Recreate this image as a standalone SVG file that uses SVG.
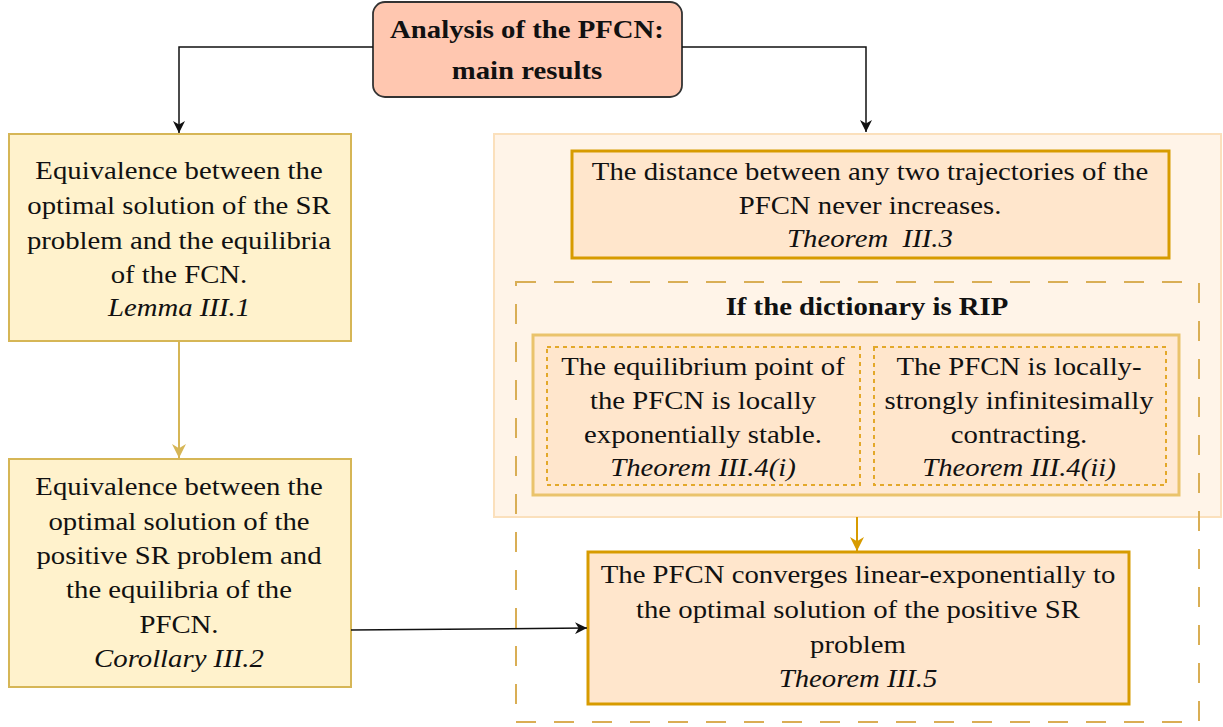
<svg xmlns="http://www.w3.org/2000/svg" width="1223" height="727" viewBox="0 0 1223 727">
<style>
text{font-family:"Liberation Serif","Times New Roman",serif;font-size:25px;fill:#111;text-anchor:middle;white-space:pre}
.b{font-weight:bold}
.i{font-style:italic}
.yel{fill:#FFF2CC;stroke:#D6B656;stroke-width:2}
.org{fill:#FFE6CC;stroke:#D79B00;stroke-width:3}
.dot{fill:#FFE6CC;stroke:#E3A82A;stroke-width:2;stroke-dasharray:4 4}
</style>
<defs>
<marker id="ab" markerUnits="userSpaceOnUse" markerWidth="12" markerHeight="12" viewBox="0 0 10 10" refX="10" refY="5" orient="auto"><path d="M0,0 L10,5 L0,10 L3,5 z" fill="#111"/></marker>
<marker id="ag" markerUnits="userSpaceOnUse" markerWidth="14" markerHeight="14" viewBox="0 0 10 10" refX="10" refY="5" orient="auto"><path d="M0,0 L10,5 L0,10 L3,5 z" fill="#D6B656"/></marker>
<marker id="ao" markerUnits="userSpaceOnUse" markerWidth="14" markerHeight="14" viewBox="0 0 10 10" refX="10" refY="5" orient="auto"><path d="M0,0 L10,5 L0,10 L3,5 z" fill="#D79B00"/></marker>
</defs>

<g id="container">
<rect x="494" y="134" width="727" height="383" fill="#FFF4E8" stroke="#FBE0BC" stroke-width="2"/>
</g>
<g id="rip-group">
<rect x="516" y="282" width="683" height="440" fill="none" stroke="#D9AE55" stroke-width="2" stroke-dasharray="20 18"/>
<text class="b" transform="translate(867 315) scale(1.15 1)">If the dictionary is RIP</text>
</g>

<g id="title">
<rect x="373" y="2" width="309" height="95" rx="12" fill="#FFC7B0" stroke="#333" stroke-width="1.8"/>
<text class="b" transform="translate(527 38) scale(1.15 1)">Analysis of the PFCN:</text>
<text class="b" transform="translate(527 79) scale(1.15 1)">main results</text>
</g>

<g id="lemma">
<rect class="yel" x="9" y="134" width="342" height="207"/>
<text transform="translate(179 179) scale(1.15 1)">Equivalence between the</text>
<text transform="translate(179 214) scale(1.15 1)">optimal solution of the SR</text>
<text transform="translate(179 249) scale(1.15 1)">problem and the equilibria</text>
<text transform="translate(179 283) scale(1.15 1)">of the FCN.</text>
<text class="i" transform="translate(179 316) scale(1.15 1)">Lemma III.1</text>
</g>

<g id="corollary">
<rect class="yel" x="9" y="459" width="342" height="228"/>
<text transform="translate(179 495) scale(1.15 1)">Equivalence between the</text>
<text transform="translate(179 530) scale(1.15 1)">optimal solution of the</text>
<text transform="translate(179 564) scale(1.15 1)">positive SR problem and</text>
<text transform="translate(179 598) scale(1.15 1)">the equilibria of the</text>
<text transform="translate(179 633) scale(1.15 1)">PFCN.</text>
<text class="i" transform="translate(179 667) scale(1.15 1)">Corollary III.2</text>
</g>

<g id="thm33">
<rect class="org" x="572" y="151" width="597" height="107"/>
<text transform="translate(870 180) scale(1.15 1)">The distance between any two trajectories of the</text>
<text transform="translate(870 214) scale(1.15 1)">PFCN never increases.</text>
<text class="i" transform="translate(870 247) scale(1.15 1)">Theorem  III.3</text>
</g>

<g id="rip-inner">
<rect x="533" y="335" width="646" height="160" fill="#FFE9D4" stroke="#EAC36C" stroke-width="3"/>
</g>

<g id="thm34i">
<rect class="dot" x="547" y="347" width="313" height="138"/>
<text transform="translate(703 375) scale(1.15 1)">The equilibrium point of</text>
<text transform="translate(703 409) scale(1.15 1)">the PFCN is locally</text>
<text transform="translate(703 443) scale(1.15 1)">exponentially stable.</text>
<text class="i" transform="translate(703 476) scale(1.15 1)">Theorem III.4(i)</text>
</g>

<g id="thm34ii">
<rect class="dot" x="874" y="347" width="292" height="138"/>
<text transform="translate(1019 375) scale(1.15 1)">The PFCN is locally-</text>
<text transform="translate(1019 409) scale(1.15 1)">strongly infinitesimally</text>
<text transform="translate(1019 443) scale(1.15 1)">contracting.</text>
<text class="i" transform="translate(1019 476) scale(1.15 1)">Theorem III.4(ii)</text>
</g>

<g id="thm35">
<rect class="org" x="588" y="552" width="541" height="152"/>
<text transform="translate(858 583) scale(1.15 1)">The PFCN converges linear-exponentially to</text>
<text transform="translate(858 618) scale(1.15 1)">the optimal solution of the positive SR</text>
<text transform="translate(858 653) scale(1.15 1)">problem</text>
<text class="i" transform="translate(858 687) scale(1.15 1)">Theorem III.5</text>
</g>

<g id="connectors" fill="none">
<path d="M373,47 H179 V133" stroke="#111" stroke-width="1.5" marker-end="url(#ab)"/>
<path d="M682,47 H866 V132" stroke="#111" stroke-width="1.5" marker-end="url(#ab)"/>
<path d="M179,341 V458" stroke="#D6B656" stroke-width="2" marker-end="url(#ag)"/>
<path d="M351,630 L587,628" stroke="#111" stroke-width="1.5" marker-end="url(#ab)"/>
<path d="M857,517 V551" stroke="#D79B00" stroke-width="2" marker-end="url(#ao)"/>
</g>
</svg>
